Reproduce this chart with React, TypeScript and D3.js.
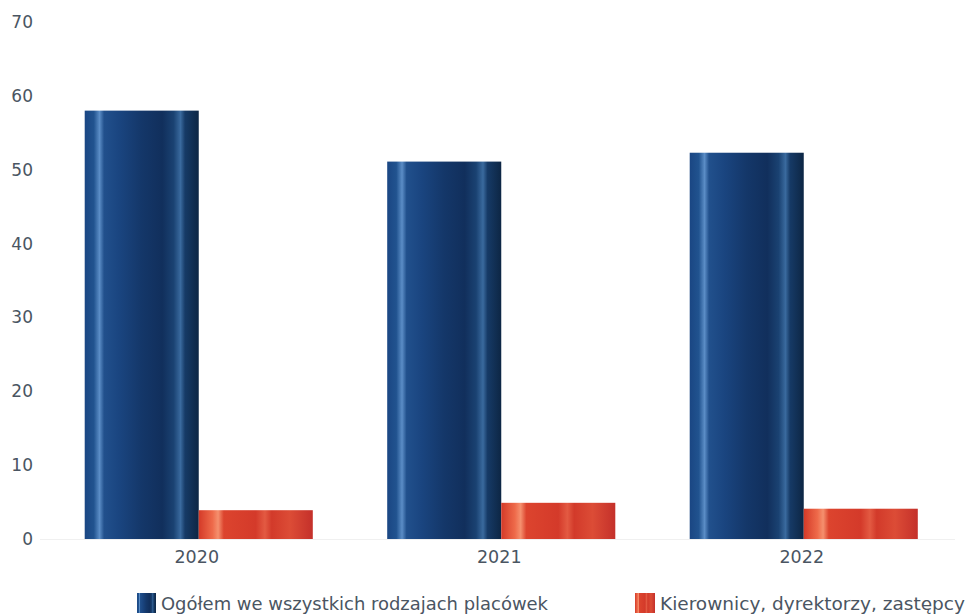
import React from "react";
import * as d3 from "d3";

const categories = ["2020", "2021", "2022"];
const seriesNames = ["Ogółem we wszystkich rodzajach placówek", "Kierownicy, dyrektorzy, zastępcy"];
const totalValues = [58.0, 51.1, 52.3];
const managerValues = [3.9, 4.9, 4.1];
const yTicks = [0, 10, 20, 30, 40, 50, 60, 70];

const W = 968;
const H = 614;
const FONT = "'DejaVu Sans', 'Noto Sans', sans-serif";
const TEXT = "#4a5562";

export default function App() {
  const x = d3.scaleBand<string>().domain(categories).range([47.5, 955]).paddingInner(0.246).paddingOuter(0.123);
  const sub = d3.scaleBand<number>().domain([0, 1]).range([0, x.bandwidth()]).padding(0);
  const y = d3.scaleLinear().domain([0, 70]).range([539, 22]);
  const series = [totalValues, managerValues];
  const fills = ["url(#gBlue)", "url(#gRed)"];

  return (
    <svg width={W} height={H} style={{ position: "absolute", left: 0, top: 0, background: "#fff" }} fontFamily={FONT}>
      <defs>
        <linearGradient id="gBlue" x1="0" x2="1" y1="0" y2="0">
          <stop offset="0" stopColor="#1a4683" />
          <stop offset="0.08" stopColor="#21538f" />
          <stop offset="0.13" stopColor="#5b8dc6" />
          <stop offset="0.17" stopColor="#21508c" />
          <stop offset="0.3" stopColor="#1a4580" />
          <stop offset="0.5" stopColor="#143769" />
          <stop offset="0.68" stopColor="#112f5c" />
          <stop offset="0.78" stopColor="#1a4272" />
          <stop offset="0.84" stopColor="#3a6a9e" />
          <stop offset="0.88" stopColor="#163a66" />
          <stop offset="1" stopColor="#0d2644" />
        </linearGradient>
        <linearGradient id="gRed" x1="0" x2="1" y1="0" y2="0">
          <stop offset="0" stopColor="#d43a28" />
          <stop offset="0.12" stopColor="#ee6a4a" />
          <stop offset="0.17" stopColor="#f5906e" />
          <stop offset="0.22" stopColor="#dc442e" />
          <stop offset="0.5" stopColor="#d43a2a" />
          <stop offset="0.58" stopColor="#e35a42" />
          <stop offset="0.64" stopColor="#d23a2a" />
          <stop offset="0.8" stopColor="#dc4c36" />
          <stop offset="1" stopColor="#c4302a" />
        </linearGradient>
      </defs>

      {yTicks.map((t) => (
        <text key={t} x={33} y={y(t)} dy="0.35em" textAnchor="end" fontSize={17} fill={TEXT}>
          {t}
        </text>
      ))}

      <line x1={40} x2={955} y1={y(0) + 0.5} y2={y(0) + 0.5} stroke="#f0f0f0" strokeWidth={1} />

      {categories.map((c, i) => (
        <g key={c} transform={`translate(${x(c)},0)`}>
          {series.map((vals, s) => (
            <rect
              key={s}
              x={sub(s)}
              y={y(vals[i])}
              width={sub.bandwidth()}
              height={y(0) - y(vals[i])}
              fill={fills[s]}
            />
          ))}
          <text x={x.bandwidth() / 2 - 2} y={563} textAnchor="middle" fontSize={17.5} fill={TEXT}>
            {c}
          </text>
        </g>
      ))}

      <g>
        <rect x={137} y={593} width={19} height={20} fill="url(#gBlue)" />
        <text x={161} y={610} fontSize={18} fill={TEXT} textLength={387} lengthAdjust="spacingAndGlyphs">{seriesNames[0]}</text>
        <rect x={635} y={593} width={20} height={20} fill="url(#gRed)" />
        <text x={660} y={610} fontSize={18} fill={TEXT} textLength={305} lengthAdjust="spacingAndGlyphs">{seriesNames[1]}</text>
      </g>
    </svg>
  );
}
